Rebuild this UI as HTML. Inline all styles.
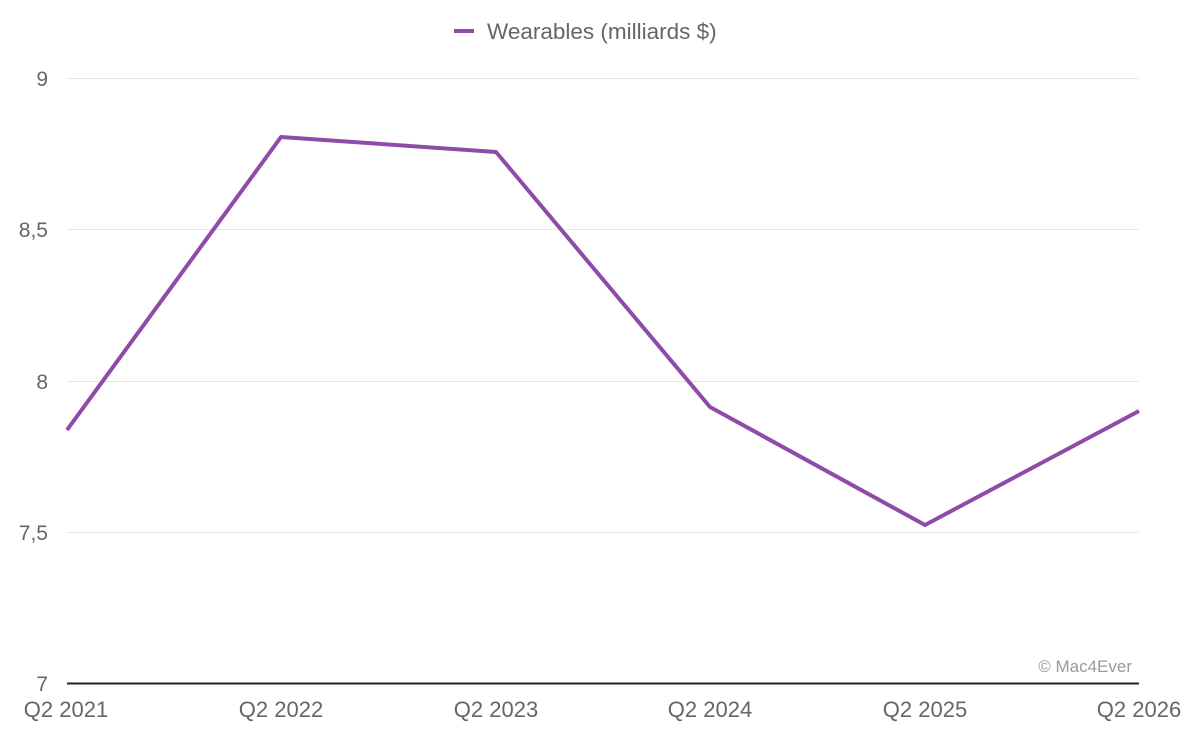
<!DOCTYPE html>
<html><head><style>html,body{margin:0;background:#fff}</style></head><body>
<svg width="1200" height="742" xmlns="http://www.w3.org/2000/svg" font-family="Liberation Sans, sans-serif">
<rect width="1200" height="742" fill="#fff"/>
<g stroke="#e6e6e6" stroke-width="1">
<line x1="67" x2="1139" y1="78.5" y2="78.5"/>
<line x1="67" x2="1139" y1="229.5" y2="229.5"/>
<line x1="67" x2="1139" y1="381.5" y2="381.5"/>
<line x1="67" x2="1139" y1="532.5" y2="532.5"/>
</g>
<line x1="67" x2="1139" y1="683.5" y2="683.5" stroke="#222" stroke-width="2"/>
<g fill="#666" font-size="21" text-anchor="end">
<text x="48" y="86">9</text>
<text x="48" y="237">8,5</text>
<text x="48" y="389">8</text>
<text x="48" y="540">7,5</text>
<text x="48" y="691">7</text>
</g>
<g fill="#666" font-size="22" text-anchor="middle">
<text x="66" y="717">Q2 2021</text>
<text x="281" y="717">Q2 2022</text>
<text x="496" y="717">Q2 2023</text>
<text x="710" y="717">Q2 2024</text>
<text x="925" y="717">Q2 2025</text>
<text x="1139" y="717">Q2 2026</text>
</g>
<polyline fill="none" stroke="#8e4ba8" stroke-width="4" stroke-linejoin="round" points="67,430 281,137 496,152 710,407 925,525 1139,411"/>
<line x1="454" x2="474" y1="31" y2="31" stroke="#8e4ba8" stroke-width="4"/>
<text x="487" y="39" font-size="22.5" fill="#666">Wearables (milliards $)</text>
<text x="1132" y="672" font-size="17" fill="#999" text-anchor="end">© Mac4Ever</text>
</svg>
</body></html>
